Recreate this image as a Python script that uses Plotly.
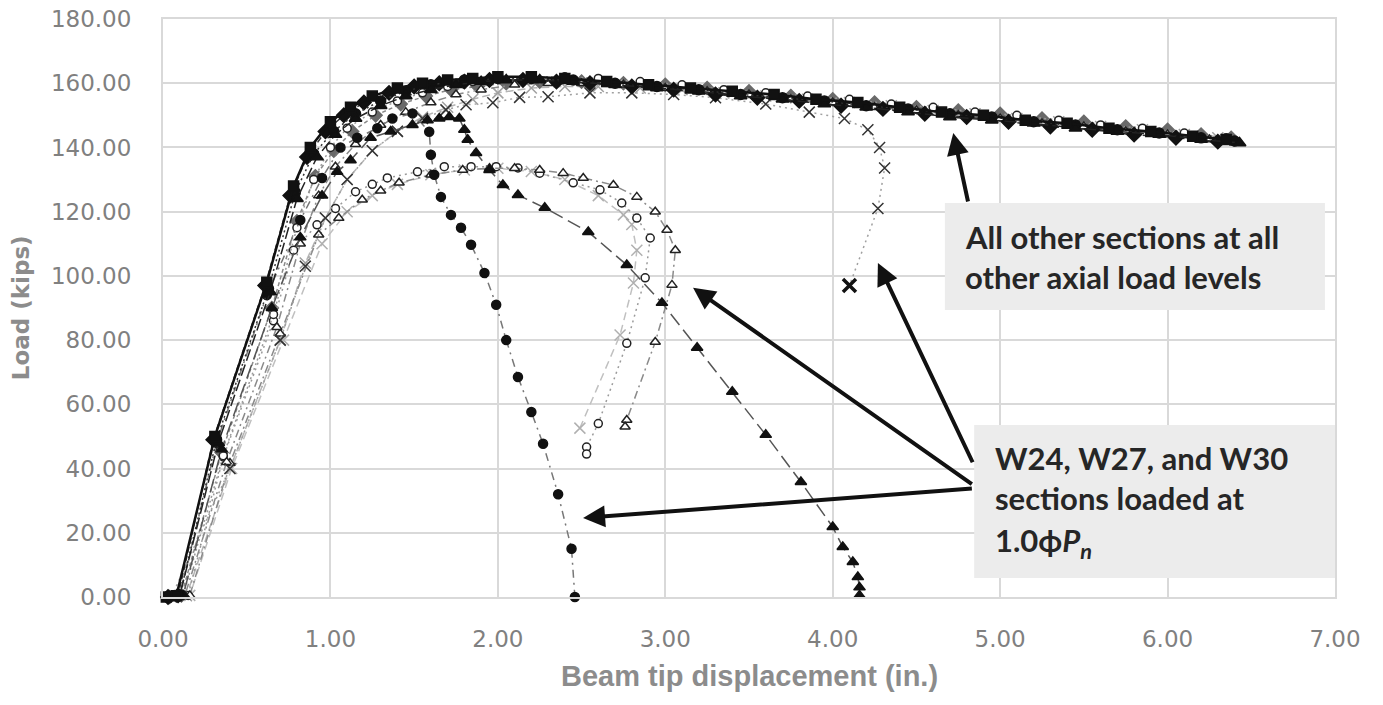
import plotly.graph_objects as go

# ---------------- data ----------------
# "All other sections at all other axial load levels"
o1_x = [0.02, 0.08, 0.31, 0.62, 0.78, 0.88, 1.0, 1.12, 1.25, 1.4, 1.55, 1.7, 1.85, 2.0, 2.2, 2.4, 2.65, 2.9, 3.15, 3.4, 3.65, 3.9, 4.15, 4.4, 4.65, 4.9, 5.15, 5.4, 5.65, 5.9, 6.15, 6.35]
o1_y = [0, 0.4, 50, 98, 128, 140, 148, 152.5, 156, 158.5, 160, 161, 161.5, 162, 162, 161.5, 160.5, 159.5, 158.5, 157.5, 156.5, 155, 154, 152.5, 151, 150, 148.5, 147.5, 146, 145, 143.5, 142.5]

o2_x = [0.03, 0.1, 0.33, 0.64, 0.8, 0.92, 1.03, 1.15, 1.3, 1.45, 1.6, 1.75, 1.9, 2.05, 2.25, 2.45, 2.7, 2.95, 3.2, 3.45, 3.7, 3.95, 4.2, 4.45, 4.7, 4.95, 5.2, 5.45, 5.7, 5.95, 6.2, 6.43]
o2_y = [0, 0.5, 48, 95, 124, 137, 144, 149, 153, 156, 158, 159.5, 160.5, 161, 161, 160.5, 159.5, 158.5, 157.5, 156, 155, 153.5, 152.5, 151, 149.5, 148.5, 147.5, 146, 145, 144, 142.5, 141.4]

o3_x = [0.04, 0.12, 0.36, 0.66, 0.8, 0.9, 1.0, 1.1, 1.25, 1.4, 1.55, 1.7, 1.85, 2.0, 2.2, 2.4, 2.6, 2.85, 3.1, 3.35, 3.6, 3.85, 4.1, 4.35, 4.6, 4.85, 5.1, 5.35, 5.6, 5.85, 6.1, 6.35]
o3_y = [0, 0.5, 44, 88, 115, 130, 140, 146, 151, 154.5, 157, 159, 160.5, 161.5, 162, 162, 161.5, 160.5, 159.5, 158, 157, 156, 155, 153.5, 152.5, 151, 150, 148.5, 147, 146, 144.5, 143]

o4_x = [0.05, 0.13, 0.38, 0.68, 0.82, 0.93, 1.03, 1.15, 1.3, 1.45, 1.6, 1.75, 1.9, 2.1, 2.3, 2.5, 2.75, 3.0, 3.25, 3.5, 3.75, 4.0, 4.25, 4.5, 4.75, 5.0, 5.25, 5.5, 5.75, 6.0, 6.25, 6.4]
o4_y = [0, 0.4, 42, 84, 110, 125, 134, 141, 147, 151, 154, 156.5, 158, 159.5, 160, 160, 159.5, 158.5, 157.5, 156.5, 155, 154, 152.5, 151.5, 150, 149, 147.5, 146.5, 145, 144, 142.5, 141.5]

o5_x = [0.03, 0.1, 0.32, 0.63, 0.79, 0.9, 1.02, 1.15, 1.3, 1.45, 1.6, 1.8, 2.0, 2.2, 2.45, 2.7, 2.95, 3.2, 3.45, 3.7, 3.95, 4.2, 4.45, 4.7, 4.95, 5.2, 5.45, 5.7, 5.95, 6.2, 6.4]
o5_y = [0, 0.5, 49, 96, 126, 138, 145, 150.5, 154.5, 157.5, 159.5, 161, 161.5, 161.5, 161, 160, 159, 158, 156.5, 155.5, 154.5, 153, 152, 150.5, 149.5, 148, 147, 145.5, 144.5, 143, 142]

o6_x = [0.05, 0.14, 0.4, 0.7, 0.85, 0.97, 1.1, 1.25, 1.4, 1.55, 1.7, 1.85, 2.0, 2.2, 2.4, 2.6, 2.85, 3.1, 3.35, 3.6, 3.85, 4.1, 4.35, 4.6, 4.85, 5.1, 5.35, 5.6, 5.85, 6.1, 6.3]
o6_y = [0, 0.4, 40, 80, 104, 118, 130, 139, 145, 149.5, 152.5, 155, 157, 158.5, 159, 159, 158.5, 158, 157, 156, 155, 154, 153, 151.5, 150.5, 149, 148, 146.5, 145.5, 144, 143]

o7_x = [0.03, 0.09, 0.3, 0.61, 0.76, 0.86, 0.97, 1.08, 1.2, 1.35, 1.5, 1.65, 1.8, 1.95, 2.15, 2.35, 2.55, 2.8, 3.05, 3.3, 3.55, 3.8, 4.05, 4.3, 4.55, 4.8, 5.05, 5.3, 5.55, 5.8, 6.05, 6.3]
o7_y = [0, 0.5, 49, 97, 125, 137, 145, 150, 154, 157, 159, 160, 160.5, 161, 161, 160.5, 160, 159, 158, 156.5, 155.5, 154.5, 153, 152, 150.5, 149.5, 148, 146.5, 145.5, 144, 143, 141.8]

o8_x = [0.04, 0.11, 0.35, 0.65, 0.8, 0.91, 1.02, 1.13, 1.27, 1.42, 1.57, 1.72, 1.88, 2.05, 2.25, 2.5, 2.75, 3.0, 3.25, 3.5, 3.75, 4.0, 4.25, 4.5, 4.75, 5.0, 5.25, 5.5, 5.75, 6.0, 6.2, 6.38]
o8_y = [0, 0.5, 45, 90, 117, 131, 139, 145, 150, 153.5, 156, 158, 159, 160, 160.5, 160.5, 160, 159.5, 158.5, 157.5, 156, 155, 154, 152.5, 151.5, 150.5, 149, 148, 146.5, 145.5, 144, 143]

# Series that unload at about 4.1-4.3 in.
dx_x = [0.05, 0.4, 0.7, 0.85, 0.97, 1.1, 1.25, 1.4, 1.55, 1.69, 1.81, 1.97, 2.13, 2.3, 2.55, 2.8, 3.05, 3.3, 3.6, 3.86, 4.07, 4.21, 4.28, 4.31, 4.27, 4.1]
dx_y = [0, 40, 80, 103, 118, 130, 139, 145, 149, 151.7, 153.3, 153.9, 155.6, 155.8, 157, 157, 156.5, 155.5, 153.5, 151, 149, 145.5, 140, 133.6, 121, 97]

# W24, W27 and W30 sections loaded at 1.0 phi Pn
d1_x = [0.03, 0.1, 0.32, 0.62, 0.82, 0.95, 1.06, 1.16, 1.28, 1.37, 1.49, 1.59, 1.6, 1.62, 1.66, 1.72, 1.78, 1.84, 1.92, 1.99, 2.05, 2.12, 2.2, 2.27, 2.36, 2.44, 2.46]
d1_y = [0, 0.5, 48, 94, 117.4, 130.5, 140, 143, 146, 149, 150.6, 144.9, 137.7, 131.5, 124.6, 119, 115, 109.7, 100.9, 91, 80, 68.5, 57.6, 47.7, 32, 15, 0]

d2_x = [0.04, 0.12, 0.35, 0.65, 0.82, 0.95, 1.04, 1.12, 1.24, 1.36, 1.49, 1.58, 1.65, 1.71, 1.77, 1.8, 1.82, 1.87, 1.95, 2.03, 2.12, 2.28, 2.54, 2.77, 2.98, 3.19, 3.4, 3.6, 3.81, 4.0, 4.06, 4.12, 4.15, 4.16, 4.16]
d2_y = [0, 0.5, 46, 90, 112, 125, 132.4, 136, 143, 145, 147, 148.5, 149, 149.5, 149, 145.5, 142.4, 138.3, 133, 128.3, 125.2, 121.2, 113.7, 103.4, 91.6, 77.6, 63.9, 50.5, 35.8, 21.8, 15.6, 10.9, 6.2, 3, 0.5]

d3_x = [0.05, 0.15, 0.36, 0.66, 0.78, 0.92, 1.03, 1.15, 1.25, 1.34, 1.52, 1.68, 1.84, 1.99, 2.12, 2.25, 2.45, 2.61, 2.74, 2.83, 2.91, 2.88, 2.77, 2.6, 2.53, 2.53]
d3_y = [0, 0.5, 43.6, 86, 108, 115.9, 121, 126.2, 128.5, 130.5, 132.4, 134, 134, 134, 133.6, 132, 129, 126.8, 122.7, 118, 111.8, 99.4, 79, 54, 46.7, 44.5]

d4_x = [0.06, 0.16, 0.4, 0.7, 0.93, 1.05, 1.19, 1.3, 1.41, 1.6, 1.79, 1.95, 2.1, 2.25, 2.39, 2.51, 2.69, 2.83, 2.94, 3.01, 3.06, 3.04, 2.94, 2.77, 2.76]
d4_y = [0, 0.5, 41.7, 82, 112.8, 118, 123.7, 126.5, 129, 131.5, 133, 133.5, 133.5, 133, 132, 130.5, 128.3, 124.6, 120, 114.3, 108, 97.2, 79.4, 55.1, 53]

d5_x = [0.06, 0.16, 0.41, 0.72, 0.95, 1.1, 1.25, 1.4, 1.6, 1.8, 2.0, 2.2, 2.4, 2.6, 2.75, 2.8, 2.83, 2.81, 2.73, 2.49]
d5_y = [0, 0.5, 40, 80, 110, 120, 125, 128.5, 131.5, 133, 133.5, 132.5, 130, 125, 119, 116, 108, 97.8, 81.6, 52.6]

x_ticks = [0, 1, 2, 3, 4, 5, 6, 7]
x_tick_labels = ["0.00", "1.00", "2.00", "3.00", "4.00", "5.00", "6.00", "7.00"]
y_ticks = [0, 20, 40, 60, 80, 100, 120, 140, 160, 180]
y_tick_labels = ["0.00", "20.00", "40.00", "60.00", "80.00", "100.00", "120.00", "140.00", "160.00", "180.00"]

# ---------------- figure ----------------
fig = go.Figure()

def add(x, y, symbol, mcolor, lcolor, mline, dash, lwidth=1.5, size=9):
    fig.add_trace(go.Scatter(
        x=x, y=y, mode="lines+markers", cliponaxis=False,
        line=dict(color=lcolor, width=lwidth, dash=dash),
        marker=dict(symbol=symbol, size=size, color=mcolor,
                    line=dict(color=mline, width=1.5)),
        showlegend=False, hoverinfo="skip"))

# gray / open-marker series first
add(d5_x, d5_y, "x-thin", "#b0b0b0", "#c0c0c0", "#b0b0b0", "8px,5px", 1.5, 11)
add(o6_x, o6_y, "x-thin", "#a0a0a0", "#b5b5b5", "#a0a0a0", "8px,4px", 1.5, 11)
add(o8_x, o8_y, "diamond", "#6a6a6a", "#8a8a8a", "#6a6a6a", "4px,3px", 1.5, 10)
add(d3_x, d3_y, "circle", "white", "#9a9a9a", "#222222", "2px,4px", 1.5, 8)
add(d4_x, d4_y, "triangle-up", "white", "#8a8a8a", "#222222", "8px,4px,2px,4px", 1.5, 9)
add(o3_x, o3_y, "circle", "white", "#9a9a9a", "#222222", "2px,3px", 1.5, 8)
add(o4_x, o4_y, "triangle-up", "white", "#8a8a8a", "#222222", "8px,4px,2px,4px", 1.5, 9)
add(dx_x, dx_y, "x-thin", "#333333", "#a0a0a0", "#333333", "2px,4px", 1.5, 11)
# black series
add(d1_x, d1_y, "circle", "#111111", "#777777", "#111111", "8px,5px,2px,5px", 1.5, 9)
add(d2_x, d2_y, "triangle-up", "#111111", "#555555", "#111111", "14px,6px", 1.5, 10)
add(o7_x, o7_y, "diamond", "#111111", "#333333", "#111111", "6px,3px", 1.5, 11)
add(o5_x, o5_y, "circle", "#111111", "#333333", "#111111", "2px,3px", 1.5, 10)
add(o2_x, o2_y, "triangle-up", "#111111", "#222222", "#111111", "12px,4px", 1.5, 11)
add(o1_x, o1_y, "square", "#111111", "#111111", "#111111", "solid", 2.5, 10)

# bold X at the end of the unloading series
fig.add_trace(go.Scatter(x=[dx_x[-1]], y=[dx_y[-1]], mode="markers", cliponaxis=False,
                         marker=dict(symbol="x-thin", size=13, line=dict(color="#111111", width=3.5)),
                         showlegend=False, hoverinfo="skip"))

grid = "#d9d9d9"
tick_font = dict(family="DejaVu Sans", size=23, color="#808080")
fig.update_xaxes(range=[0, 7], tickvals=x_ticks, ticktext=x_tick_labels, automargin=False,
                 showgrid=True, gridcolor=grid, gridwidth=2, zeroline=False,
                 showline=True, linecolor=grid, linewidth=2, mirror=True,
                 ticks="", tickfont=tick_font, ticklabelstandoff=20,
                 ticklabeloverflow="allow")
fig.update_yaxes(range=[0, 180], tickvals=y_ticks, ticktext=y_tick_labels, automargin=False,
                 showgrid=True, gridcolor=grid, gridwidth=2, zeroline=False,
                 showline=True, linecolor=grid, linewidth=2, mirror=True,
                 ticks="", tickfont=tick_font, ticklabelstandoff=25,
                 ticklabeloverflow="allow")

# text boxes
fig.add_shape(type="rect", xref="x", yref="y", x0=4.67, x1=6.94, y0=89.4, y1=122.7,
              fillcolor="#ececec", line=dict(width=0), layer="above")
fig.add_shape(type="rect", xref="x", yref="y", x0=4.845, x1=7.0, y0=5.9, y1=53.6,
              fillcolor="#ececec", line=dict(width=0), layer="above")

box_font = dict(family="Lato", size=31, color="#262626", weight="bold")
box_lines = [
    (4.78, 112.1, "All other sections at all"),
    (4.78, 99.7, "other axial load levels"),
    (4.96, 43.3, "W24, W27, and W30"),
    (4.96, 30.8, "sections loaded at"),
    (4.96, 17.1, "1.0ϕ<i>P<sub>n</sub></i>"),
]
for bx, by, txt in box_lines:
    fig.add_annotation(x=bx, y=by, xref="x", yref="y", text=txt, showarrow=False,
                       xanchor="left", yanchor="middle", font=box_font)

# arrows (tip x,y ; tail ax,ay)
arrows = [
    (4.72, 144.5, 4.81, 122.7),
    (4.27, 104.0, 4.84, 41.5),
    (3.166, 96.3, 4.84, 34.8),
    (2.509, 24.6, 4.84, 33.8),
]
for tx, ty, ax, ay in arrows:
    fig.add_annotation(x=tx, y=ty, ax=ax, ay=ay, xref="x", yref="y", axref="x", ayref="y",
                       text="", showarrow=True, arrowhead=2, arrowsize=1.1,
                       arrowwidth=4, arrowcolor="#111111")

# axis titles
fig.add_annotation(text="<b>Beam tip displacement (in.)</b>", xref="paper", yref="paper",
                   x=0.5, y=-0.137, xanchor="center", yanchor="middle", showarrow=False,
                   font=dict(family="Liberation Sans", size=29, color="#8c8c8c"))
fig.add_annotation(text="<b>Load (kips)</b>", xref="paper", yref="paper",
                   x=-0.121, y=0.5, xanchor="center", yanchor="middle", showarrow=False,
                   textangle=-90, font=dict(family="DejaVu Sans", size=23, color="#8c8c8c"))

fig.update_layout(width=1383, height=705, autosize=False,
                  margin=dict(l=163, r=48, t=19, b=108),
                  plot_bgcolor="white", paper_bgcolor="white")

# remove the page's default body margin so the figure sits at the window's top-left corner
fig.write_html("out.html", config={"displayModeBar": False},
               post_script="document.body.style.margin='0';")
